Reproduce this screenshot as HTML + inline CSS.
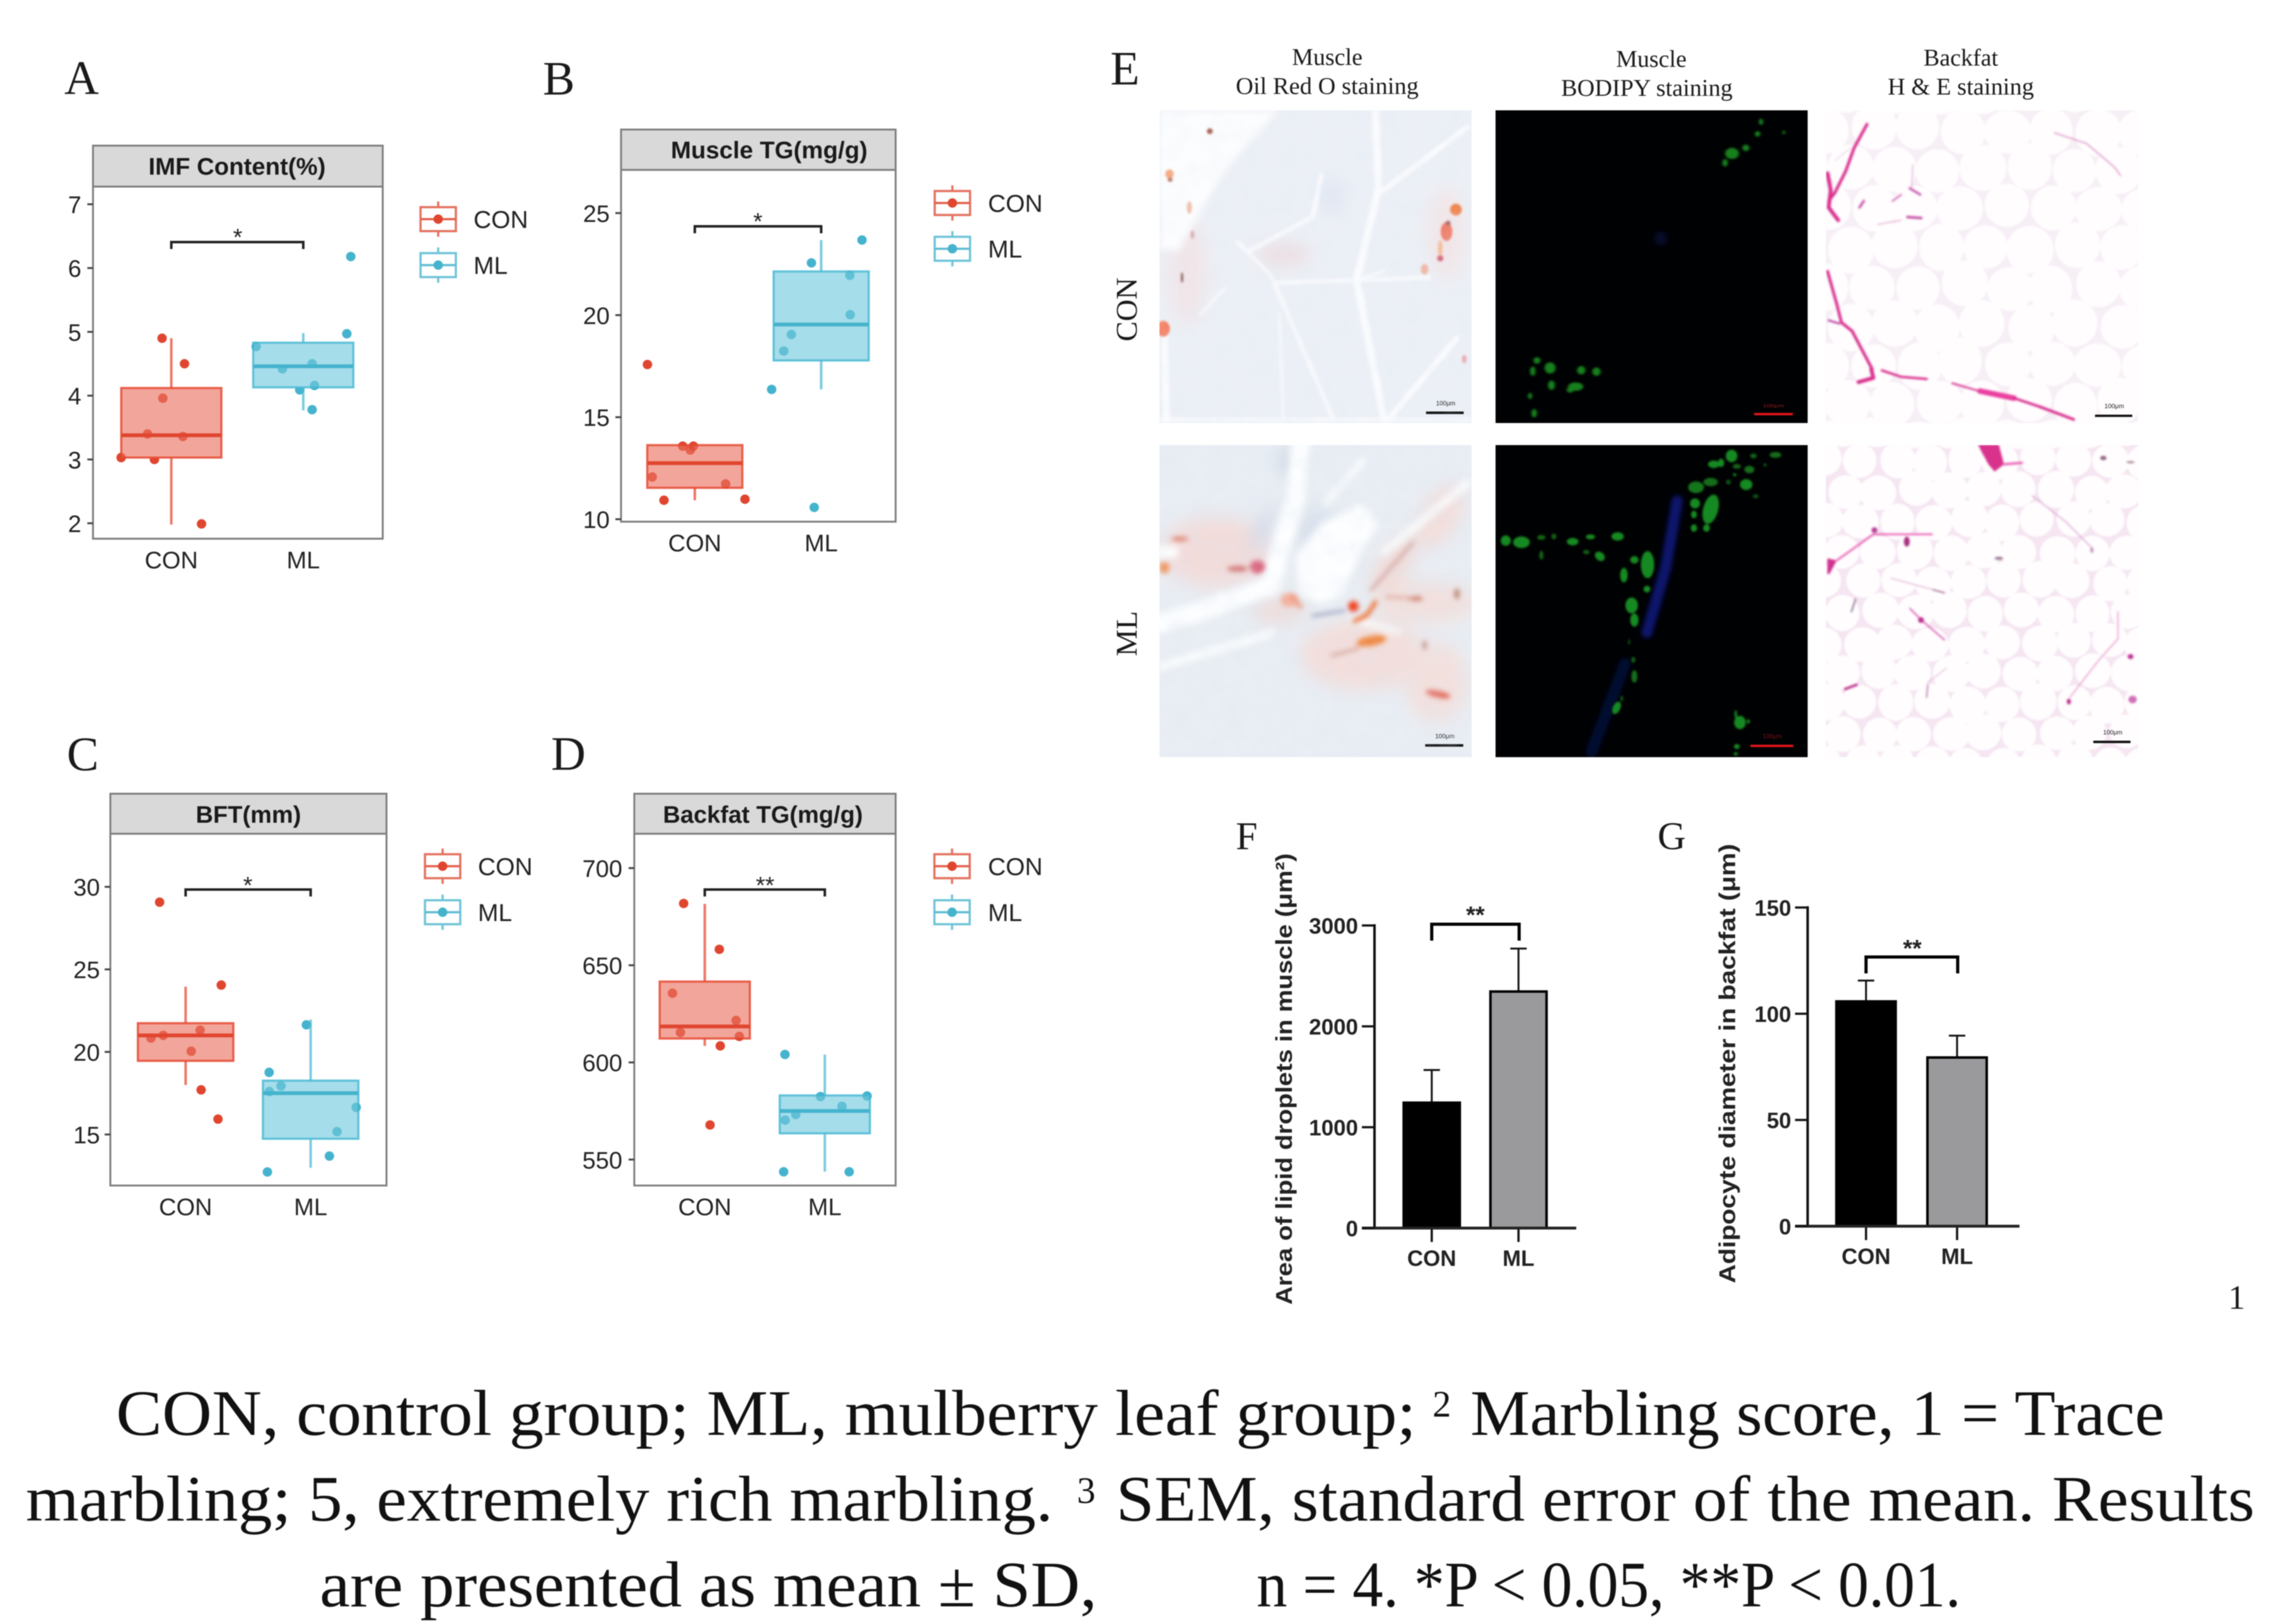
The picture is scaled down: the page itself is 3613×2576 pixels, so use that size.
<!DOCTYPE html>
<html lang="en">
<head>
<meta charset="utf-8">
<title>Lipid deposition figure</title>
<style>
html,body{margin:0;padding:0;background:#fff;}
#figure{display:block;width:3613px;height:2576px;filter:blur(0.9px);}
.sans{font-family:"Liberation Sans",Arial,sans-serif;fill:#222;}
.serif{font-family:"Liberation Serif","Times New Roman",serif;fill:#1a1a1a;}
.letter{font-size:76px;}
.strip-title{font-size:38px;font-weight:bold;text-anchor:middle;fill:#1a1a1a;}
.legend-label{font-size:39px;}
.head{font-size:38px;text-anchor:middle;}
.star{font-size:38px;text-anchor:middle;}
.cap{font-size:103px;fill:#111;}
.sup{font-size:59px;fill:#111;}
.bold-title{font-size:36px;font-weight:bold;fill:#222;text-anchor:middle;}
.mini{font-size:10px;text-anchor:middle;}
</style>
</head>
<body>
<svg id="figure" xmlns="http://www.w3.org/2000/svg" width="3613" height="2576" viewBox="0 0 3613 2576">
<defs>
  <filter id="b1" x="-10%" y="-10%" width="120%" height="120%"><feGaussianBlur stdDeviation="1.3"/></filter>
  <filter id="b2" x="-20%" y="-20%" width="140%" height="140%"><feGaussianBlur stdDeviation="2"/></filter>
  <filter id="b5" x="-30%" y="-30%" width="160%" height="160%"><feGaussianBlur stdDeviation="5"/></filter>
  <filter id="b8" x="-40%" y="-40%" width="180%" height="180%"><feGaussianBlur stdDeviation="8"/></filter>
  <filter id="b12" x="-40%" y="-40%" width="180%" height="180%"><feGaussianBlur stdDeviation="12"/></filter>
  <filter id="b18" x="-40%" y="-40%" width="180%" height="180%"><feGaussianBlur stdDeviation="18"/></filter>
  <filter id="b40" x="-50%" y="-50%" width="200%" height="200%"><feGaussianBlur stdDeviation="40"/></filter>
  <filter id="mottle" x="0" y="0" width="100%" height="100%">
    <feTurbulence type="fractalNoise" baseFrequency="0.035" numOctaves="3" seed="7"/>
    <feColorMatrix type="matrix" values="0 0 0 0 0.72  0 0 0 0 0.78  0 0 0 0 0.88  0 0 0 1.6 -0.55"/>
  </filter>
  <clipPath id="clip-c1r1"><rect x="1839" y="175" width="495" height="496"/></clipPath>
  <clipPath id="clip-c1r2"><rect x="1839" y="706" width="495" height="495"/></clipPath>
  <clipPath id="clip-c2r1"><rect x="2372" y="175" width="495" height="496"/></clipPath>
  <clipPath id="clip-c2r2"><rect x="2372" y="706" width="495" height="495"/></clipPath>
  <clipPath id="clip-c3r1"><rect x="2896" y="175" width="495" height="496"/></clipPath>
  <clipPath id="clip-c3r2"><rect x="2896" y="706" width="495" height="495"/></clipPath>
  <g id="key-con">
    <line x1="0" x2="0" y1="-28" y2="28" stroke="#e4725f" stroke-width="3.5"/>
    <rect x="-28" y="-19" width="56" height="38" fill="#fff" stroke="#e4725f" stroke-width="3.5"/>
    <line x1="-28" x2="28" y1="0" y2="0" stroke="#e4604c" stroke-width="3.5"/>
    <circle r="7.5" fill="#e0462f"/>
  </g>
  <g id="key-ml">
    <line x1="0" x2="0" y1="-28" y2="28" stroke="#6fc4d8" stroke-width="3.5"/>
    <rect x="-28" y="-19" width="56" height="38" fill="#fff" stroke="#6fc4d8" stroke-width="3.5"/>
    <line x1="-28" x2="28" y1="0" y2="0" stroke="#5fbcd3" stroke-width="3.5"/>
    <circle r="7.5" fill="#45b3cd"/>
  </g>
</defs>

<rect width="3613" height="2576" fill="#fff"/>

<!-- Panel letters -->
<text class="serif letter" x="102" y="149">A</text>
<text class="serif letter" x="861" y="150">B</text>
<text class="serif letter" x="106" y="1222">C</text>
<text class="serif letter" x="874" y="1221">D</text>
<text class="serif letter" x="1761" y="134">E</text>
<text class="serif" font-size="62" x="1960" y="1347">F</text>
<text class="serif" font-size="62" x="2629" y="1347">G</text>

<!-- Box panels: frames, strips, titles, stars, legends -->
<g id="panel-imf">
  <rect x="147.5" y="296" width="459.5" height="558.5" fill="#fff" stroke="#7f7f7f" stroke-width="3"/>
  <rect x="147.5" y="231" width="459.5" height="65" fill="#d9d9d9" stroke="#7f7f7f" stroke-width="3"/>
  <text class="sans strip-title" x="376" y="277" textLength="281" lengthAdjust="spacingAndGlyphs">IMF Content(%)</text>
  <text class="sans star" x="377" y="389">*</text>
  <g>
    <use href="#key-con" transform="translate(695,347.6)"/>
    <text class="sans legend-label" x="751" y="361.5">CON</text>
    <use href="#key-ml" transform="translate(695,420.5)"/>
    <text class="sans legend-label" x="751" y="434.5">ML</text>
  </g>
</g>
<g id="panel-mtg">
  <rect x="985" y="269.5" width="435.5" height="558" fill="#fff" stroke="#7f7f7f" stroke-width="3"/>
  <rect x="985" y="205.5" width="435.5" height="64" fill="#d9d9d9" stroke="#7f7f7f" stroke-width="3"/>
  <text class="sans strip-title" x="1220" y="251" textLength="312" lengthAdjust="spacingAndGlyphs">Muscle TG(mg/g)</text>
  <text class="sans star" x="1202" y="364">*</text>
  <g>
    <use href="#key-con" transform="translate(1510.5,322)"/>
    <text class="sans legend-label" x="1567" y="336">CON</text>
    <use href="#key-ml" transform="translate(1510.5,394.6)"/>
    <text class="sans legend-label" x="1567" y="408.6">ML</text>
  </g>
</g>
<g id="panel-bft">
  <rect x="175" y="1322.5" width="438" height="558" fill="#fff" stroke="#7f7f7f" stroke-width="3"/>
  <rect x="175" y="1259" width="438" height="63.5" fill="#d9d9d9" stroke="#7f7f7f" stroke-width="3"/>
  <text class="sans strip-title" x="394" y="1305" textLength="167" lengthAdjust="spacingAndGlyphs">BFT(mm)</text>
  <text class="sans star" x="393" y="1417">*</text>
  <g>
    <use href="#key-con" transform="translate(702,1374)"/>
    <text class="sans legend-label" x="758" y="1388">CON</text>
    <use href="#key-ml" transform="translate(702,1447)"/>
    <text class="sans legend-label" x="758" y="1461">ML</text>
  </g>
</g>
<g id="panel-btg">
  <rect x="1006" y="1322.5" width="414.5" height="558" fill="#fff" stroke="#7f7f7f" stroke-width="3"/>
  <rect x="1006" y="1259" width="414.5" height="63.5" fill="#d9d9d9" stroke="#7f7f7f" stroke-width="3"/>
  <text class="sans strip-title" x="1210" y="1305" textLength="317" lengthAdjust="spacingAndGlyphs">Backfat TG(mg/g)</text>
  <text class="sans star" x="1213.5" y="1417">**</text>
  <g>
    <use href="#key-con" transform="translate(1510,1374)"/>
    <text class="sans legend-label" x="1567" y="1388">CON</text>
    <use href="#key-ml" transform="translate(1510,1447)"/>
    <text class="sans legend-label" x="1567" y="1461">ML</text>
  </g>
</g>

<!-- Panel E headers -->
<g>
  <text class="serif head" x="2105" y="103">Muscle</text>
  <text class="serif head" x="2105" y="149" textLength="290" lengthAdjust="spacingAndGlyphs">Oil Red O staining</text>
  <text class="serif head" x="2619" y="106">Muscle</text>
  <text class="serif head" x="2612" y="152" textLength="272" lengthAdjust="spacingAndGlyphs">BODIPY staining</text>
  <text class="serif head" x="3110" y="104">Backfat</text>
  <text class="serif head" x="3110" y="150" textLength="232" lengthAdjust="spacingAndGlyphs">H &amp; E staining</text>
  <text class="serif" font-size="48" text-anchor="middle" transform="translate(1803,491) rotate(-90)">CON</text>
  <text class="serif" font-size="48" text-anchor="middle" transform="translate(1803,1005) rotate(-90)">ML</text>
</g>

<!-- Oil Red O, CON -->
<g clip-path="url(#clip-c1r1)">
  <rect x="1839" y="175" width="495" height="496" fill="#ecf0f6"/>
  <g transform="translate(1830,165) scale(.3316)">
    <g filter="url(#b40)">
      <ellipse cx="620" cy="720" rx="130" ry="60" fill="#ecdfe3"/>
      <ellipse cx="160" cy="800" rx="90" ry="260" fill="#f1e5e8"/>
      <ellipse cx="1400" cy="620" rx="90" ry="220" fill="#f2e6e8"/>
      <ellipse cx="850" cy="440" rx="70" ry="90" fill="#e2e7f3"/>
    </g>
    <path d="M25 30 L600 30 L350 300 L120 700 L25 700 Z" fill="#fcfdfe" filter="url(#b18)"/>
    <g fill="none" stroke="#fbfcfe" stroke-linecap="round" stroke-linejoin="round" filter="url(#b8)">
      <path d="M1060 30 L1075 400 L970 840 L1100 1510" stroke-width="34"/>
      <path d="M1500 110 L1075 430" stroke-width="24"/>
      <path d="M800 340 L760 540 L460 700" stroke-width="20"/>
      <path d="M400 660 L560 820 L860 1510" stroke-width="16"/>
      <path d="M590 855 L1320 830" stroke-width="16"/>
      <path d="M50 1100 L60 1510" stroke-width="34"/>
      <path d="M1450 1120 L1120 1510" stroke-width="26"/>
      <path d="M340 880 L220 1010" stroke-width="12"/>
      <path d="M970 840 L1100 800" stroke-width="12"/>
      <path d="M600 1000 L620 1500" stroke-width="10"/>
      <path d="M25 1510 L1510 1510" stroke-width="14"/>
    </g>
    <g filter="url(#b5)">
      <circle cx="1445" cy="505" r="28" fill="#ef8650"/>
      <ellipse cx="1400" cy="610" rx="28" ry="45" fill="#f07f6a"/>
      <ellipse cx="1370" cy="690" rx="12" ry="40" fill="#f4c0a0"/>
      <circle cx="1370" cy="738" r="15" fill="#d66b7c"/>
      <circle cx="1408" cy="570" r="12" fill="#a76a70"/>
      <ellipse cx="1295" cy="790" rx="18" ry="25" fill="#f0b8a8"/>
      <ellipse cx="75" cy="335" rx="20" ry="22" fill="#f5ab84"/>
      <ellipse cx="78" cy="362" rx="12" ry="10" fill="#b57a6c"/>
      <ellipse cx="45" cy="1075" rx="32" ry="38" fill="#f48468"/>
      <circle cx="268" cy="130" r="14" fill="#a5584a"/>
      <ellipse cx="135" cy="830" rx="6" ry="25" fill="#8a5a50"/>
      <ellipse cx="1485" cy="1220" rx="12" ry="20" fill="#eab0b8"/>
      <ellipse cx="170" cy="495" rx="12" ry="30" fill="#f0c0a8"/>
      <ellipse cx="185" cy="625" rx="10" ry="20" fill="#d8b0b0"/>
    </g>
    <line x1="1302" x2="1482" y1="1477" y2="1477" stroke="#111" stroke-width="12"/>
    <text class="sans" font-size="30" text-anchor="middle" x="1396" y="1442">100μm</text>
  </g>
  <rect x="1839" y="175" width="495" height="496" filter="url(#mottle)" opacity=".18"/>
</g>

<!-- Oil Red O, ML -->
<g clip-path="url(#clip-c1r2)">
  <rect x="1839" y="706" width="495" height="495" fill="#e9eef4"/>
  <g transform="translate(1830,690) scale(.3316)">
    <g filter="url(#b40)">
      <ellipse cx="300" cy="560" rx="270" ry="170" fill="#f2dcda"/>
      <ellipse cx="1000" cy="1050" rx="300" ry="170" fill="#f3dedb"/>
      <ellipse cx="1350" cy="1180" rx="150" ry="190" fill="#f3e0dd"/>
      <ellipse cx="1300" cy="800" rx="240" ry="100" fill="#f2e0dd"/>
      <ellipse cx="600" cy="840" rx="130" ry="60" fill="#eedcda"/>
      <ellipse cx="1370" cy="390" rx="90" ry="170" fill="#f2dedb" transform="rotate(30 1370 390)"/>
      <ellipse cx="1150" cy="620" rx="70" ry="170" fill="#f1dad6" transform="rotate(35 1150 620)"/>
      <ellipse cx="650" cy="130" rx="50" ry="70" fill="#ced7e4"/>
      <ellipse cx="770" cy="450" rx="70" ry="110" fill="#d8dfeb" transform="rotate(30 770 450)"/>
      <ellipse cx="520" cy="450" rx="40" ry="120" fill="#d5dbe8" transform="rotate(25 520 450)"/>
    </g>
    <g fill="#fdfeff" stroke="#fdfeff" filter="url(#b18)" stroke-linecap="round" stroke-linejoin="round">
      <path d="M700 50 L680 300 L600 560 L560 720 L200 850 L25 900" fill="none" stroke-width="90"/>
      <path d="M700 770 L680 580 L800 420 L1000 330 L1070 430 L960 620 L900 770 L800 800 Z"/>
      <path d="M1500 230 L1100 560" fill="none" stroke-width="34"/>
      <path d="M25 1110 L560 950" fill="none" stroke-width="34"/>
      <path d="M25 560 L90 560" fill="none" stroke-width="60"/>
      <path d="M1000 120 L820 330" fill="none" stroke-width="26"/>
      <path d="M950 880 L1170 940" fill="none" stroke-width="26"/>
    </g>
    <g filter="url(#b12)" fill="none" stroke-linecap="round">
      <ellipse cx="50" cy="635" rx="26" ry="28" fill="#f09a68"/>
      <ellipse cx="125" cy="497" rx="42" ry="10" fill="#db7f6a"/>
      <ellipse cx="400" cy="640" rx="50" ry="14" fill="#d0706c"/>
      <ellipse cx="495" cy="630" rx="36" ry="32" fill="#d9607a"/>
      <ellipse cx="650" cy="790" rx="44" ry="34" fill="#f4b09a"/>
      <path d="M660 770 L700 820" stroke="#ef9d82" stroke-width="24"/>
      <ellipse cx="955" cy="820" rx="26" ry="26" fill="#ee3f1f"/>
      <path d="M960 890 L1020 860 L1060 800" stroke="#ee6a2c" stroke-width="20"/>
      <ellipse cx="1040" cy="985" rx="72" ry="24" fill="#f0863e" transform="rotate(-10 1040 985)"/>
      <ellipse cx="1250" cy="782" rx="36" ry="10" fill="#c86f58"/>
      <ellipse cx="1360" cy="1240" rx="60" ry="16" fill="#e36656" transform="rotate(12 1360 1240)"/>
      <ellipse cx="1450" cy="760" rx="12" ry="26" fill="#b27a68"/>
      <path d="M1240 515 L1040 740" stroke="#d3adab" stroke-width="16"/>
      <path d="M760 865 L910 840" stroke="#a5abc4" stroke-width="16"/>
      <path d="M850 1055 L980 1020" stroke="#c97a6b" stroke-width="8"/>
      <path d="M1110 775 L1240 780" stroke="#dd8f7c" stroke-width="9"/>
      <ellipse cx="1295" cy="1005" rx="10" ry="22" fill="#b98f84"/>
    </g>
    <line x1="1298" x2="1480" y1="1485" y2="1485" stroke="#111" stroke-width="12"/>
    <text class="sans" font-size="30" text-anchor="middle" x="1392" y="1450">100μm</text>
  </g>
  <rect x="1839" y="706" width="495" height="495" filter="url(#mottle)" opacity=".25"/>
</g>

<!-- BODIPY, CON -->
<g clip-path="url(#clip-c2r1)">
  <rect x="2372" y="175" width="495" height="496" fill="#000103"/>
  <g transform="translate(1740,60) scale(1.097,.7396)">
    <ellipse cx="815" cy="430" rx="8" ry="16" fill="#071550" opacity=".6" filter="url(#b5)"/>
    <g fill="#14801a" filter="url(#b2)">
      <ellipse cx="655" cy="708" rx="8" ry="12"/><ellipse cx="630" cy="715" rx="4" ry="10"/>
      <ellipse cx="636" cy="692" rx="5" ry="7"/><ellipse cx="700" cy="713" rx="6" ry="9"/>
      <ellipse cx="722" cy="716" rx="6" ry="9"/><ellipse cx="657" cy="745" rx="5" ry="10"/>
      <ellipse cx="692" cy="748" rx="11" ry="9"/><ellipse cx="626" cy="768" rx="3" ry="7"/>
      <ellipse cx="632" cy="805" rx="4" ry="9"/><ellipse cx="684" cy="755" rx="5" ry="6"/>
      <ellipse cx="918" cy="248" rx="10" ry="12"/><ellipse cx="938" cy="236" rx="5" ry="7"/>
      <ellipse cx="955" cy="206" rx="4" ry="6"/><ellipse cx="960" cy="180" rx="3" ry="7"/>
      <ellipse cx="908" cy="268" rx="4" ry="8"/><ellipse cx="993" cy="203" rx="2" ry="4"/>
    </g>
    <line x1="950" x2="1006" y1="807" y2="807" stroke="#e0151b" stroke-width="5"/>
    <text class="sans mini" style="fill:#a01418" x="978" y="792">100μm</text>
  </g>
</g>

<!-- BODIPY, ML -->
<g clip-path="url(#clip-c2r2)">
  <rect x="2372" y="706" width="495" height="495" fill="#000103"/>
  <g transform="translate(2365,695) scale(.3316)">
    <g fill="none" stroke-linecap="round" filter="url(#b12)">
      <path d="M890 300 L835 620 L745 930" stroke="#0a1270" stroke-width="52"/>
      <path d="M640 1080 L480 1500" stroke="#060c30" stroke-width="55"/>
    </g>
    <g fill="#188a20" filter="url(#b5)">
      <ellipse cx="70" cy="490" rx="24" ry="25"/><ellipse cx="145" cy="498" rx="40" ry="28"/>
      <ellipse cx="240" cy="475" rx="20" ry="12" opacity=".7"/><ellipse cx="300" cy="470" rx="12" ry="14" opacity=".7"/>
      <ellipse cx="390" cy="495" rx="28" ry="18"/><ellipse cx="475" cy="472" rx="22" ry="12"/>
      <ellipse cx="455" cy="545" rx="16" ry="10" opacity=".7"/><ellipse cx="520" cy="565" rx="26" ry="20" transform="rotate(40 520 565)"/>
      <ellipse cx="605" cy="470" rx="30" ry="20"/><ellipse cx="240" cy="560" rx="10" ry="22" opacity=".7"/>
      <ellipse cx="685" cy="582" rx="20" ry="18"/><ellipse cx="748" cy="605" rx="32" ry="65"/>
      <ellipse cx="635" cy="655" rx="18" ry="35"/><ellipse cx="745" cy="722" rx="16" ry="16"/>
      <ellipse cx="672" cy="800" rx="30" ry="38"/><ellipse cx="685" cy="870" rx="20" ry="32"/>
      <ellipse cx="680" cy="1060" rx="10" ry="14" opacity=".7"/><ellipse cx="685" cy="1140" rx="14" ry="30" opacity=".8"/>
      <ellipse cx="600" cy="1290" rx="18" ry="32" transform="rotate(25 600 1290)"/><ellipse cx="625" cy="1245" rx="6" ry="14" opacity=".7"/>
      <ellipse cx="660" cy="975" rx="5" ry="14" opacity=".6"/><ellipse cx="1150" cy="85" rx="28" ry="30"/>
      <ellipse cx="1065" cy="125" rx="28" ry="18"/><ellipse cx="1100" cy="118" rx="15" ry="20"/>
      <ellipse cx="1255" cy="85" rx="16" ry="12" opacity=".7"/><ellipse cx="1360" cy="80" rx="28" ry="14" opacity=".8"/>
      <ellipse cx="1175" cy="135" rx="20" ry="12" opacity=".7"/><ellipse cx="1235" cy="150" rx="24" ry="18" opacity=".8"/>
      <ellipse cx="1050" cy="210" rx="35" ry="20" opacity=".8"/><ellipse cx="980" cy="235" rx="38" ry="28" opacity=".85"/>
      <ellipse cx="1220" cy="222" rx="30" ry="26"/><ellipse cx="1135" cy="210" rx="12" ry="12" opacity=".6"/>
      <ellipse cx="1265" cy="278" rx="14" ry="10" opacity=".6"/><ellipse cx="1050" cy="340" rx="36" ry="72" transform="rotate(15 1050 340)"/>
      <ellipse cx="975" cy="312" rx="24" ry="24"/><ellipse cx="970" cy="365" rx="14" ry="18"/>
      <ellipse cx="970" cy="430" rx="15" ry="18"/><ellipse cx="1030" cy="430" rx="16" ry="18"/>
      <ellipse cx="1070" cy="290" rx="14" ry="18"/><ellipse cx="1190" cy="1360" rx="28" ry="32"/>
      <ellipse cx="1175" cy="1475" rx="14" ry="12"/><ellipse cx="1170" cy="1320" rx="6" ry="20"/>
      <ellipse cx="1310" cy="128" rx="8" ry="8" opacity=".6"/><ellipse cx="1165" cy="175" rx="8" ry="8"/>
      <ellipse cx="1230" cy="1355" rx="8" ry="10"/><ellipse cx="1170" cy="1510" rx="10" ry="8"/>
    </g>
    <line x1="1240" x2="1445" y1="1472" y2="1472" stroke="#e0151b" stroke-width="11"/>
    <text class="sans" style="fill:#7a1218" font-size="30" text-anchor="middle" x="1345" y="1435">100μm</text>
  </g>
</g>

<!-- H&E, CON -->
<g id="he-con" clip-path="url(#clip-c3r1)">
  <rect x="2896" y="175" width="495" height="496" fill="#f7eff6"/>
  <g id="he-con-mesh" fill="#fffdfe" filter="url(#b1)"></g>
  <g transform="translate(2880,160) scale(.338)">
    <g fill="none" stroke="#d9308f" stroke-linecap="round" stroke-linejoin="round" filter="url(#b5)">
      <path d="M240 110 L180 220 L140 330 L90 430 L60 470" stroke-width="14"/>
      <path d="M55 340 L70 420 L60 500 L105 560" stroke-width="18"/>
      <path d="M55 800 L100 960 L120 1040 L170 1080 L265 1260" stroke-width="14"/>
      <path d="M60 1030 L110 1045" stroke-width="9" stroke="#b9409e"/>
      <path d="M310 1265 L400 1295 L520 1305" stroke-width="11"/>
      <path d="M640 1325 L760 1360" stroke-width="8"/>
      <path d="M770 1362 L930 1395" stroke-width="26" stroke="#ea3f9e"/>
      <path d="M930 1395 L1050 1435" stroke-width="12"/>
      <path d="M1050 1435 L1210 1495" stroke-width="13"/>
      <path d="M1120 150 L1270 200 L1400 310 L1430 350" stroke-width="5" stroke="#d984bd"/>
      <path d="M440 410 L490 440" stroke-width="10" stroke="#c24fa6"/>
      <path d="M430 545 L495 550" stroke-width="12" stroke="#c24fa6"/>
      <path d="M290 580 L400 560" stroke-width="4" stroke="#dc9cc9"/>
      <path d="M360 470 L400 440" stroke-width="8" stroke="#d670b5"/>
      <path d="M205 500 L225 470" stroke-width="12" stroke="#c85fae"/>
      <path d="M455 300 L450 410" stroke-width="4" stroke="#dc9cc9"/>
      <path d="M260 1260 L270 1300 L200 1320" stroke-width="18"/>
      <path d="M165 220 L90 280" stroke-width="3" stroke="#e6bada"/>
    </g>
    <line x1="1310" x2="1485" y1="1478" y2="1478" stroke="#111" stroke-width="11"/>
    <text class="sans" font-size="30" text-anchor="middle" x="1400" y="1442">100μm</text>
  </g>
</g>

<!-- H&E, ML -->
<g id="he-ml" clip-path="url(#clip-c3r2)">
  <rect x="2896" y="706" width="495" height="495" fill="#f5e6f2"/>
  <g id="he-ml-mesh" fill="#fffdfe" filter="url(#b1)"></g>
  <g transform="translate(2885,695) scale(.3316)">
    <g filter="url(#b5)">
      <path d="M760 30 L860 30 L885 125 L840 160 L810 125 Z" fill="#d8308c"/>
      <path d="M40 575 L85 585 L50 650 L40 650 Z" fill="#d03090"/>
      <g fill="none" stroke-linecap="round" stroke="#ea68b8">
        <path d="M885 125 L970 118" stroke-width="12"/>
        <path d="M85 585 L260 460 L540 460" stroke-width="9"/>
        <path d="M435 815 L490 870 L600 965" stroke-width="7" stroke="#d85fb0"/>
        <path d="M125 1200 L180 1180" stroke-width="12" stroke="#c0358f"/>
        <path d="M1020 275 L1180 400 L1300 520" stroke-width="5" stroke="#d9a0cc"/>
        <path d="M1430 830 L1430 960 L1340 1060 L1200 1240" stroke-width="6" stroke="#eaa0d0"/>
        <path d="M345 670 L545 725" stroke-width="4" stroke="#d8a0c8"/>
        <path d="M545 725 L600 740" stroke-width="6" stroke="#a06090"/>
        <path d="M175 770 L155 830" stroke-width="7" stroke="#8a7090"/>
        <path d="M520 1180 L515 1240" stroke-width="7" stroke="#c08ab0"/>
        <path d="M610 1100 L520 1170" stroke-width="4" stroke="#d8b0d0"/>
      </g>
      <circle cx="265" cy="440" r="14" fill="#b84098"/>
      <ellipse cx="420" cy="495" rx="14" ry="24" fill="#a83080"/>
      <circle cx="488" cy="870" r="14" fill="#c03090"/>
      <ellipse cx="1490" cy="1045" rx="14" ry="12" fill="#c03090"/>
      <ellipse cx="1500" cy="1250" rx="20" ry="18" fill="#d070b8"/>
      <ellipse cx="1195" cy="1260" rx="10" ry="14" fill="#c03090"/>
      <ellipse cx="1360" cy="95" rx="15" ry="10" fill="#90607c"/>
      <ellipse cx="1490" cy="115" rx="20" ry="5" fill="#a08090"/>
      <ellipse cx="860" cy="575" rx="20" ry="8" fill="#a08098"/>
      <ellipse cx="1305" cy="535" rx="8" ry="14" fill="#c49ac0"/>
    </g>
    <line x1="1312" x2="1490" y1="1453" y2="1453" stroke="#111" stroke-width="12"/>
    <text class="sans" font-size="30" text-anchor="middle" x="1405" y="1418">100μm</text>
  </g>
</g>

<!-- Bar chart static text -->
<g id="panel-lipid">
  <text class="sans bold-title" transform="translate(2049,1711.5) rotate(-90)" textLength="716" lengthAdjust="spacingAndGlyphs">Area of lipid droplets in muscle (μm²)</text>
  <text class="sans star" font-weight="bold" x="2340" y="1464">**</text>
</g>
<g id="panel-adipocyte">
  <text class="sans bold-title" transform="translate(2752,1687) rotate(-90)" textLength="697" lengthAdjust="spacingAndGlyphs">Adipocyte diameter in backfat (μm)</text>
  <text class="sans star" font-weight="bold" x="3033" y="1517">**</text>
</g>

<text class="serif" font-size="54" x="3534" y="2076">1</text>

<!-- Caption -->
<g>
  <text class="serif cap" x="184" y="2276" textLength="2062" lengthAdjust="spacingAndGlyphs">CON, control group; ML, mulberry leaf group;</text>
  <text class="serif sup" x="2272" y="2247">2</text>
  <text class="serif cap" x="2332" y="2276" textLength="1101" lengthAdjust="spacingAndGlyphs">Marbling score, 1 = Trace</text>
  <text class="serif cap" x="41" y="2412" textLength="1629" lengthAdjust="spacingAndGlyphs">marbling; 5, extremely rich marbling.</text>
  <text class="serif sup" x="1708" y="2384">3</text>
  <text class="serif cap" x="1770" y="2412" textLength="1806" lengthAdjust="spacingAndGlyphs">SEM, standard error of the mean. Results</text>
  <text class="serif cap" x="507" y="2548" textLength="1233" lengthAdjust="spacingAndGlyphs">are presented as mean ± SD,</text>
  <text class="serif cap" x="1993" y="2548" textLength="1117" lengthAdjust="spacingAndGlyphs">n = 4. *P &lt; 0.05, **P &lt; 0.01.</text>
</g>
</svg>

<script>
/* ---------- chart data ---------- */
const categories = ['CON', 'ML'];

const imfTicks = [2, 3, 4, 5, 6, 7];
const imfConValues = [4.90, 4.50, 3.96, 3.40, 3.36, 3.03, 3.00, 1.99];
const imfConJitter = [-0.07, 0.10, -0.064, -0.18, 0.088, -0.38, -0.128, 0.229];
const imfConBox = [1.98, 3.03, 3.38, 4.12, 4.90];
const imfMlValues = [6.18, 4.97, 4.77, 4.50, 4.42, 4.16, 4.09, 3.78];
const imfMlJitter = [0.36, 0.33, -0.357, 0.067, -0.158, 0.085, -0.027, 0.067];
const imfMlBox = [3.77, 4.13, 4.46, 4.83, 4.98];

const mtgTicks = [10, 15, 20, 25];
const mtgConValues = [17.58, 13.58, 13.58, 13.39, 12.07, 11.73, 10.93, 10.98];
const mtgConJitter = [-0.375, -0.096, -0.011, -0.036, -0.337, 0.244, -0.244, 0.397];
const mtgConBox = [10.93, 11.54, 12.75, 13.63, 13.63];
const mtgMlValues = [23.68, 22.56, 21.95, 20.02, 19.05, 18.24, 16.36, 10.58];
const mtgMlJitter = [0.323, -0.077, 0.227, 0.230, -0.236, -0.296, -0.392, -0.055];
const mtgMlBox = [16.36, 17.78, 19.54, 22.14, 23.68];

const bftTicks = [15, 20, 25, 30];
const bftConValues = [29.07, 24.05, 21.32, 21.0, 20.84, 20.04, 17.7, 15.93];
const bftConJitter = [-0.208, 0.285, 0.116, -0.179, -0.277, 0.045, 0.124, 0.259];
const bftConBox = [18.0, 19.46, 21.0, 21.74, 23.95];
const bftMlValues = [21.64, 18.76, 17.94, 17.6, 16.64, 15.17, 13.69, 12.73];
const bftMlJitter = [-0.034, -0.332, -0.237, -0.330, 0.364, 0.211, 0.150, -0.346];
const bftMlBox = [12.98, 14.74, 17.5, 18.26, 21.96];

const btgTicks = [550, 600, 650, 700];
const btgConValues = [681.8, 658.2, 635.6, 621.6, 615.4, 613.4, 608.5, 567.8];
const btgConJitter = [-0.176, 0.121, -0.269, 0.261, -0.203, 0.288, 0.129, 0.044];
const btgConBox = [608.5, 612.3, 618.5, 641.6, 681.6];
const btgMlValues = [604.1, 582.4, 582.7, 577.4, 573.2, 570.3, 543.7, 543.7];
const btgMlJitter = [-0.332, -0.036, 0.352, 0.143, -0.242, -0.33, -0.343, 0.203];
const btgMlBox = [543.8, 563.5, 575, 583, 604];

const lipidTicks = [0, 1000, 2000, 3000];
const lipidMeans = [1243, 2345];
const lipidErrors = [324, 426];

const adipocyteTicks = [0, 50, 100, 150];
const adipocyteMeans = [105.8, 79.4];
const adipocyteErrors = [9.8, 10.3];

/* ---------- helpers ---------- */
const NS = 'http://www.w3.org/2000/svg';
function svgEl(tag, attrs, parent) {
  const node = document.createElementNS(NS, tag);
  for (const key in attrs) node.setAttribute(key, attrs[key]);
  parent.appendChild(node);
  return node;
}
function linearScale(d0, d1, r0, r1) {
  return function (v) { return r0 + (v - d0) * (r1 - r0) / (d1 - d0); };
}

const RED = '#e0462f', RED_FILL = '#e64b35', BLUE = '#45b3cd', BLUE_FILL = '#4dbbd5';

function drawBoxGroup(parent, prefix, index, xScale, yScale, values, jitter, box, halfWidth, dot, fill) {
  const cx = xScale(index);
  const label = categories[index].toLowerCase();
  const points = svgEl('g', {}, parent);
  
  
  values.forEach(function (v, i) {
    const c = svgEl('circle', { cx: xScale(index + jitter[i]), cy: yScale(v), r: 7.5, fill: dot }, points);
    
    
  });
  const whisker = svgEl('line', { x1: cx, x2: cx, y1: yScale(box[0]), y2: yScale(box[4]), stroke: fill, 'stroke-width': 4, 'stroke-opacity': 0.75 }, parent);
  
  
  const rect = svgEl('rect', {
    x: cx - halfWidth, width: 2 * halfWidth,
    y: yScale(box[3]), height: yScale(box[1]) - yScale(box[3]),
    fill: '#fff', stroke: 'none'
  }, parent);
  
  
  const overlay = svgEl('rect', {
    x: cx - halfWidth, width: 2 * halfWidth,
    y: yScale(box[3]), height: yScale(box[1]) - yScale(box[3]),
    fill: fill, 'fill-opacity': 0.5, stroke: fill, 'stroke-width': 3.5, 'stroke-opacity': 0.85
  }, parent);
  
  
  const median = svgEl('line', { x1: cx - halfWidth, x2: cx + halfWidth, y1: yScale(box[2]), y2: yScale(box[2]), stroke: dot, 'stroke-width': 6 }, parent);
  
  
  values.forEach(function (v, i) {
    const inside = v <= box[3] && v >= box[1];
    if (inside) {
      const c = svgEl('circle', { cx: xScale(index + jitter[i]), cy: yScale(v), r: 7.5, fill: dot, 'fill-opacity': 0.7 }, points.parentNode);
      
      
    }
  });
}

function drawBoxPanel(id, prefix, g, ticks, conValues, conJitter, conBox, mlValues, mlJitter, mlBox) {
  const parent = document.getElementById(id);
  const yScale = linearScale(g.v0, g.v1, g.p0, g.p1);
  const xScale = linearScale(0, 1, g.xCon, g.xMl);
  ticks.forEach(function (t) {
    const mark = svgEl('line', { x1: g.left - 9, x2: g.left, y1: yScale(t), y2: yScale(t), stroke: '#444', 'stroke-width': 3 }, parent);
    
    
    const label = svgEl('text', { x: g.labelRight, y: yScale(t) + 14, 'text-anchor': 'end', 'font-size': 38, class: 'sans' }, parent);
    label.textContent = String(t);
    
    
  });
  categories.forEach(function (name, i) {
    const label = svgEl('text', { x: xScale(i), y: g.bottom + 47, 'text-anchor': 'middle', 'font-size': 38, class: 'sans' }, parent);
    label.textContent = name;
    
    
  });
  drawBoxGroup(parent, prefix, 0, xScale, yScale, conValues, conJitter, conBox, g.half, RED, RED_FILL);
  drawBoxGroup(parent, prefix, 1, xScale, yScale, mlValues, mlJitter, mlBox, g.half, BLUE, BLUE_FILL);
  const bracket = svgEl('path', {
    d: 'M' + xScale(0) + ' ' + (g.bracketY + 11) + ' V' + g.bracketY + ' H' + xScale(1) + ' V' + (g.bracketY + 11),
    fill: 'none', stroke: '#222', 'stroke-width': 4
  }, parent);
  
  
}

function drawBarChart(id, prefix, g, ticks, means, errors) {
  const parent = document.getElementById(id);
  const yScale = linearScale(ticks[0], ticks[ticks.length - 1], g.p0, g.p1);
  const xScale = linearScale(0, 1, g.xCon, g.xMl);
  const fills = ['#000', '#9a9a9d'];
  means.forEach(function (m, i) {
    const cx = xScale(i);
    const err = svgEl('line', { x1: cx, x2: cx, y1: yScale(m), y2: yScale(m + errors[i]), stroke: '#111', 'stroke-width': 3 }, parent);
    
    
    const cap = svgEl('line', { x1: cx - 13, x2: cx + 13, y1: yScale(m + errors[i]), y2: yScale(m + errors[i]), stroke: '#111', 'stroke-width': 3 }, parent);
    
    
    const bar = svgEl('rect', { x: cx - g.half, width: 2 * g.half, y: yScale(m), height: g.p0 - yScale(m), fill: fills[i], stroke: '#000', 'stroke-width': 4 }, parent);
    
    
    const mark = svgEl('line', { x1: cx, x2: cx, y1: g.p0, y2: g.p0 + 22, stroke: '#111', 'stroke-width': 3.5 }, parent);
    
    
    const label = svgEl('text', { x: cx, y: g.p0 + 60, 'text-anchor': 'middle', 'font-size': 35, 'font-weight': 'bold', class: 'sans' }, parent);
    label.textContent = categories[i];
    
    
  });
  const yAxis = svgEl('line', { x1: g.axisX, x2: g.axisX, y1: yScale(ticks[ticks.length - 1]) - 2, y2: g.p0, stroke: '#111', 'stroke-width': 4 }, parent);
  
  
  const xAxis = svgEl('line', { x1: g.axisX - 20, x2: g.axisEnd, y1: g.p0, y2: g.p0, stroke: '#222', 'stroke-width': 4.5 }, parent);
  
  
  ticks.forEach(function (t) {
    const mark = svgEl('line', { x1: g.axisX - 20, x2: g.axisX, y1: yScale(t), y2: yScale(t), stroke: '#111', 'stroke-width': 3.5 }, parent);
    
    
    const label = svgEl('text', { x: g.axisX - 26, y: yScale(t) + 13, 'text-anchor': 'end', 'font-size': 35, 'font-weight': 'bold', class: 'sans' }, parent);
    label.textContent = String(t);
    
    
  });
  const bracket = svgEl('path', {
    d: 'M' + xScale(0) + ' ' + (g.bracketY + 26) + ' V' + g.bracketY + ' H' + (xScale(1) + 1) + ' V' + (g.bracketY + 26),
    fill: 'none', stroke: '#000', 'stroke-width': 5
  }, parent);
  
  
}

/* ---------- adipocyte texture (decorative micrograph, not chart data) ---------- */
function drawMesh(groupId, x0, y0, size, cell, seed) {
  const g = document.getElementById(groupId);
  let s = seed;
  function rnd() { s = (s * 16807) % 2147483647; return s / 2147483647 - 0.5; }
  const n = Math.ceil(size / (cell * 0.86)) + 3;
  for (let r = 0; r < n; r++) {
    for (let c = 0; c < n; c++) {
      const px = x0 + (c - 0.5 + (r % 2) * 0.5) * cell + rnd() * cell * 0.14;
      const py = y0 + (r - 0.5) * cell * 0.86 + rnd() * cell * 0.14;
      const cellShape = svgEl('ellipse', {
        cx: px.toFixed(1), cy: py.toFixed(1),
        rx: (cell * (0.50 + rnd() * 0.05)).toFixed(1),
        ry: (cell * (0.50 + rnd() * 0.05)).toFixed(1)
      }, g);
      
      
    }
  }
}

/* ---------- draw ---------- */
drawBoxPanel('panel-imf', 'imf',
  { left: 147.5, bottom: 854.5, labelRight: 129, v0: 2, v1: 7, p0: 830, p1: 324, xCon: 271.7, xMl: 481, half: 79.4, bracketY: 384 },
  imfTicks, imfConValues, imfConJitter, imfConBox, imfMlValues, imfMlJitter, imfMlBox);
drawBoxPanel('panel-mtg', 'mtg',
  { left: 985, bottom: 827.5, labelRight: 967, v0: 10, v1: 25, p0: 823.6, p1: 338, xCon: 1102, xMl: 1302.4, half: 75.4, bracketY: 359 },
  mtgTicks, mtgConValues, mtgConJitter, mtgConBox, mtgMlValues, mtgMlJitter, mtgMlBox);
drawBoxPanel('panel-bft', 'bft',
  { left: 175, bottom: 1880.5, labelRight: 158.5, v0: 15, v1: 30, p0: 1799.5, p1: 1406.7, xCon: 294.4, xMl: 492.7, half: 75.7, bracketY: 1411 },
  bftTicks, bftConValues, bftConJitter, bftConBox, bftMlValues, bftMlJitter, bftMlBox);
drawBoxPanel('panel-btg', 'btg',
  { left: 1006, bottom: 1880.5, labelRight: 987, v0: 550, v1: 700, p0: 1839.3, p1: 1377, xCon: 1117.8, xMl: 1308.2, half: 71.5, bracketY: 1411 },
  btgTicks, btgConValues, btgConJitter, btgConBox, btgMlValues, btgMlJitter, btgMlBox);

drawBarChart('panel-lipid', 'lipid',
  { p0: 1948, p1: 1468, xCon: 2270.8, xMl: 2408.4, half: 44.5, axisX: 2180, axisEnd: 2500, bracketY: 1466 },
  lipidTicks, lipidMeans, lipidErrors);
drawBarChart('panel-adipocyte', 'adipocyte',
  { p0: 1945, p1: 1439.5, xCon: 2959.6, xMl: 3104, half: 47, axisX: 2867, axisEnd: 3203, bracketY: 1518 },
  adipocyteTicks, adipocyteMeans, adipocyteErrors);

drawMesh('he-con-mesh', 2896, 175, 495, 72, 48271);
drawMesh('he-ml-mesh', 2896, 706, 495, 56, 9301);
</script>
</body>
</html>
